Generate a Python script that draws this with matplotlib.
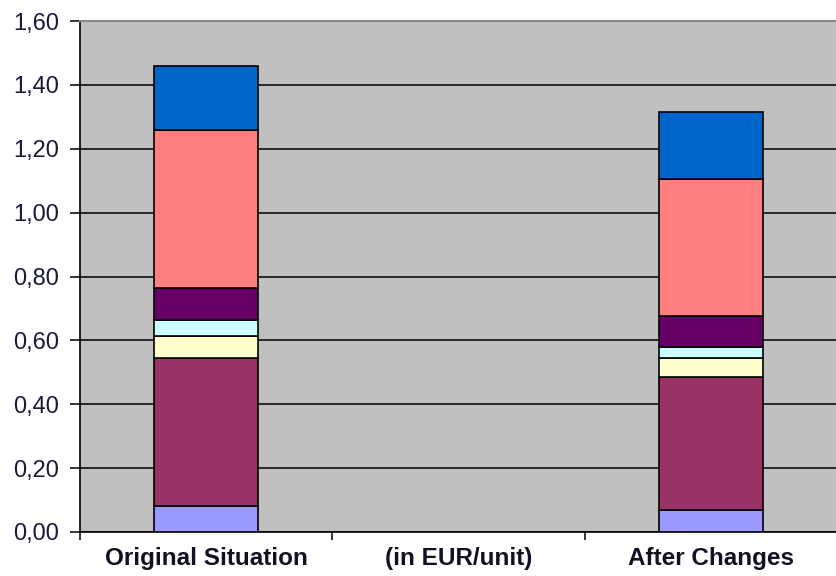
import numpy as np
import matplotlib.pyplot as plt
from matplotlib.ticker import FuncFormatter

# cost components per unit, bottom to top
categories = ["Original Situation", "(in EUR/unit)", "After Changes"]
comp1 = [0.08, 0.00, 0.07]
comp2 = [0.465, 0.00, 0.415]
comp3 = [0.07, 0.00, 0.06]
comp4 = [0.05, 0.00, 0.035]
comp5 = [0.10, 0.00, 0.095]
comp6 = [0.495, 0.00, 0.43]
comp7 = [0.20, 0.00, 0.21]

components = [comp1, comp2, comp3, comp4, comp5, comp6, comp7]
colors = ["#9999FF", "#993366", "#FFFFCC", "#CCFFFF", "#660066", "#FF8080", "#0066CC"]

plt.rcParams['font.family'] = ['Liberation Sans', 'DejaVu Sans']

fig = plt.figure(figsize=(8.37, 5.76), dpi=100)
ax = fig.add_axes([0.0956, 0.0764, 0.9044, 0.8871])
ax.set_facecolor("#C0C0C0")

x = np.arange(len(categories))
bottom = np.zeros(len(categories))
for vals, c in zip(components, colors):
    vals = np.array(vals)
    mask = vals > 0
    ax.bar(x[mask], vals[mask], bottom=bottom[mask], width=0.41, color=c,
           edgecolor="black", linewidth=1.2, zorder=3)
    bottom += vals

ax.set_ylim(0, 1.6)
ax.set_xlim(-0.5, 2.5)
ax.set_yticks(np.arange(0, 1.61, 0.2))
ax.yaxis.set_major_formatter(FuncFormatter(lambda v, p: f"{v:.2f}".replace(".", ",")))
ax.yaxis.grid(True, color="black", linewidth=1.1, zorder=0)
ax.set_axisbelow(True)

ax.set_xticks(x)
ax.set_xticklabels(categories, fontweight="bold", fontsize=17.5, color="#111122")
ax.set_xticks([-0.5, 0.5, 1.5, 2.5], minor=True)
ax.tick_params(axis="x", which="major", length=0, pad=11)
ax.tick_params(axis="x", which="minor", length=6, width=1.1, direction="out")
ax.tick_params(axis="y", length=7, width=1.1, pad=8, labelsize=17, labelcolor="#1a1a3a")

ax.spines["right"].set_visible(False)
ax.spines["top"].set_color("#8a8a8a")
ax.spines["top"].set_linewidth(1.5)
ax.spines["top"].set_zorder(5)
for s in ["left", "bottom"]:
    ax.spines[s].set_linewidth(1.2)

fig.savefig("out.png", dpi=100)
